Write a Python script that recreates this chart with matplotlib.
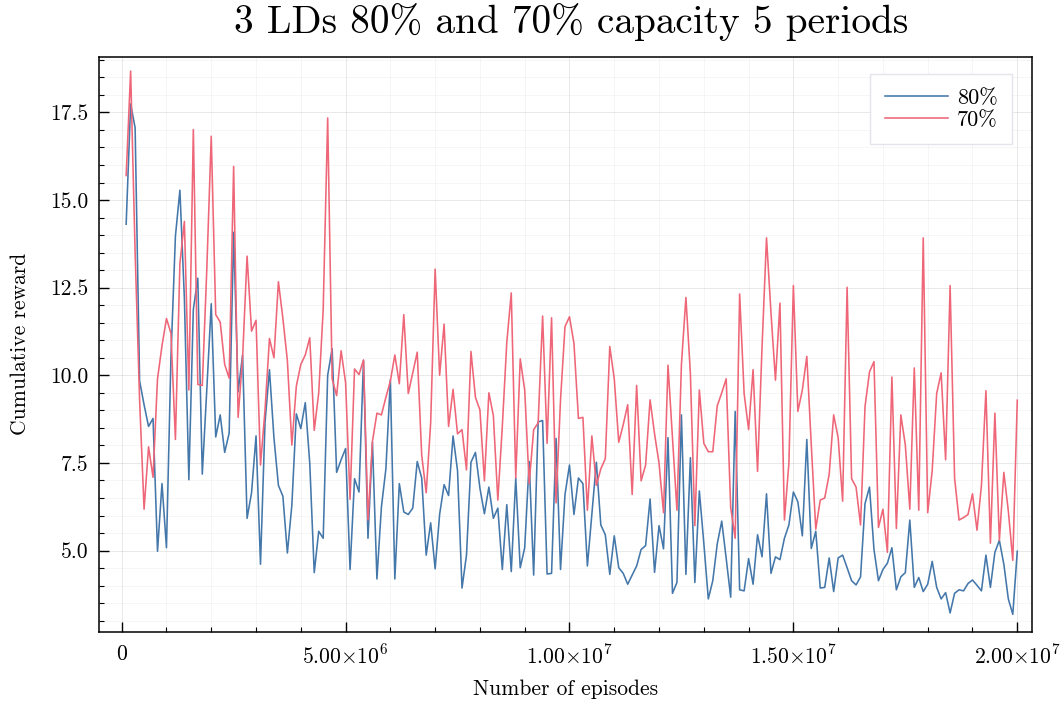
import numpy as np
import matplotlib
matplotlib.use("Agg")
import matplotlib.pyplot as plt
from matplotlib.ticker import FixedLocator, MultipleLocator

plt.rcParams['font.family'] = ['cmr10', 'DejaVu Sans']
plt.rcParams['mathtext.fontset'] = 'cm'
plt.rcParams['axes.unicode_minus'] = False
plt.rcParams['axes.formatter.use_mathtext'] = True

episodes = np.arange(1, 201) * 1e5

reward_80 = [
    14.31, 17.74, 17.06, 9.84, 9.16, 8.54, 8.77, 4.98, 6.91, 5.08,
    10.5, 13.97, 15.28, 12.2, 7.02, 11.88, 12.77, 7.18, 9.58, 12.04,
    8.24, 8.87, 7.80, 8.35, 14.08, 9.53, 10.58, 5.92, 6.65, 8.27,
    4.61, 8.64, 10.16, 8.22, 6.86, 6.55, 4.93, 6.29, 8.90, 8.48,
    9.22, 7.49, 4.37, 5.55, 5.35, 10.0, 10.76, 7.23, 7.59, 7.91,
    4.46, 7.05, 6.67, 10.42, 5.35, 8.09, 4.19, 6.24, 7.33, 9.87,
    4.19, 6.91, 6.10, 6.03, 6.21, 7.54, 7.07, 4.87, 5.79, 4.48,
    6.03, 6.88, 6.57, 8.27, 7.28, 3.93, 4.87, 7.52, 7.80, 6.78,
    6.05, 6.81, 5.92, 6.21, 4.46, 6.31, 4.40, 7.07, 4.51, 5.08,
    7.54, 4.30, 8.67, 8.71, 4.33, 4.35, 8.20, 4.46, 6.60, 7.44,
    6.03, 7.07, 6.91, 4.56, 6.03, 7.52, 5.73, 5.45, 4.32, 5.42,
    4.51, 4.35, 4.04, 4.30, 4.56, 5.03, 5.14, 6.47, 4.38, 5.71,
    5.05, 8.22, 3.78, 4.09, 8.87, 4.32, 7.65, 4.09, 6.70, 5.21,
    3.62, 4.14, 5.19, 5.84, 4.77, 3.67, 8.97, 3.88, 3.85, 4.77,
    4.04, 5.45, 4.82, 6.62, 4.35, 4.82, 4.74, 5.35, 5.73, 6.67,
    6.39, 5.42, 8.17, 5.06, 5.55, 3.93, 3.95, 4.79, 3.83, 4.79,
    4.87, 4.51, 4.14, 4.02, 4.25, 6.34, 6.81, 5.03, 4.14, 4.46,
    4.64, 5.08, 3.88, 4.25, 4.37, 5.87, 3.95, 4.23, 3.83, 4.04,
    4.69, 3.95, 3.62, 3.80, 3.22, 3.78, 3.88, 3.85, 4.06, 4.16,
    4.01, 3.85, 4.87, 3.95, 4.95, 5.29, 4.61, 3.62, 3.18, 4.98,
]

reward_70 = [
    15.70, 18.68, 13.5, 9.3, 6.18, 7.96, 7.09, 9.90, 10.84, 11.62,
    11.20, 8.17, 13.19, 14.39, 9.58, 17.01, 9.74, 9.71, 13.0, 16.82,
    11.73, 11.52, 10.31, 9.92, 15.96, 8.80, 10.5, 13.40, 11.26, 11.57,
    7.44, 9.0, 11.05, 10.50, 12.67, 11.62, 10.42, 8.01, 9.69, 10.31,
    10.58, 11.07, 8.43, 9.50, 11.88, 17.34, 9.90, 9.42, 10.70, 9.79,
    6.46, 10.18, 10.02, 10.44, 5.87, 8.12, 8.92, 8.87, 9.37, 9.84,
    10.58, 9.76, 11.73, 9.48, 10.07, 10.66, 7.72, 6.65, 8.64, 13.03,
    10.00, 11.46, 8.54, 9.60, 8.33, 8.45, 7.30, 10.68, 9.37, 9.01,
    6.99, 9.50, 8.85, 6.44, 8.54, 10.94, 12.35, 7.07, 10.47, 9.58,
    6.91, 8.45, 8.64, 11.69, 8.06, 11.64, 6.36, 9.3, 11.39, 11.67,
    10.91, 8.77, 8.80, 6.15, 8.27, 6.86, 7.33, 7.62, 10.82, 9.90,
    8.09, 8.59, 9.16, 6.60, 9.71, 6.99, 7.44, 9.30, 8.33, 7.49,
    6.08, 10.29, 8.22, 6.15, 10.31, 12.22, 10.05, 5.71, 9.58, 8.06,
    7.82, 7.82, 9.13, 9.50, 9.90, 6.23, 5.35, 12.32, 9.48, 8.45,
    10.16, 7.26, 10.8, 13.92, 11.78, 9.86, 12.06, 5.87, 7.49, 12.56,
    8.97, 9.58, 10.54, 8.01, 5.61, 6.44, 6.50, 7.18, 8.87, 8.22,
    6.41, 12.51, 7.05, 6.81, 5.73, 9.11, 10.10, 10.39, 5.66, 6.18,
    4.95, 9.95, 5.63, 8.87, 8.01, 6.18, 10.21, 6.15, 13.92, 6.08,
    7.28, 9.48, 10.07, 7.59, 12.56, 7.07, 5.87, 5.94, 6.03, 6.62,
    5.58, 6.86, 9.56, 5.21, 8.92, 5.29, 7.23, 6.13, 4.72, 9.29,
]

series_labels = ["80%", "70%"]
x_ticks = [0, 5e6, 1e7, 1.5e7, 2e7]
x_tick_labels = ["0", r"$5.00{\times}10^{6}$", r"$1.00{\times}10^{7}$",
                 r"$1.50{\times}10^{7}$", r"$2.00{\times}10^{7}$"]
y_ticks = [5.0, 7.5, 10.0, 12.5, 15.0, 17.5]

fig = plt.figure(figsize=(10.62, 7.04), dpi=100)
ax = fig.add_axes([0.0935, 0.1027, 0.8783, 0.8163])

ax.plot(episodes, reward_80, color="#4477AA", lw=1.15, label=series_labels[0])
ax.plot(episodes, reward_70, color="#EE6677", lw=1.15, label=series_labels[1])

ax.set_xlim(-0.5e6, 20.33e6)
ax.set_ylim(2.685, 19.08)

ax.xaxis.set_major_locator(FixedLocator(x_ticks))
ax.set_xticklabels(x_tick_labels)
ax.xaxis.set_minor_locator(MultipleLocator(1e6))
ax.yaxis.set_major_locator(FixedLocator(y_ticks))
ax.set_yticklabels([f"{v:.1f}" for v in y_ticks])
ax.yaxis.set_minor_locator(MultipleLocator(0.5))

ax.tick_params(axis='both', which='major', direction='in', length=7, width=1.0,
               labelsize=15.5, top=False, right=False)
ax.tick_params(axis='y', which='major', pad=8)
ax.tick_params(axis='x', which='major', pad=9)
ax.tick_params(axis='both', which='minor', direction='in', length=3.5, width=0.8,
               top=False, right=False)

ax.grid(True, which='major', color='black', alpha=0.1, lw=0.6)
ax.grid(True, which='minor', color='black', alpha=0.05, lw=0.5)
ax.set_axisbelow(True)
for s in ax.spines.values():
    s.set_linewidth(1.1)

ax.set_title("3 LDs 80% and 70% capacity 5 periods", fontsize=28.3, pad=17,
             x=0.506)
ax.set_xlabel("Number of episodes", fontsize=15.5, labelpad=8)
ax.set_ylabel("Cumulative reward", fontsize=15.5, labelpad=14)

leg = ax.legend(loc='upper right', fontsize=16, frameon=True, fancybox=False,
                edgecolor='#e4e4ec', framealpha=1.0, handlelength=2.85,
                handletextpad=0.4, borderpad=0.65, labelspacing=0.1,
                borderaxespad=0.0, bbox_to_anchor=(0.9786, 0.9704))
leg.get_frame().set_linewidth(1.0)

fig.savefig("out.png", dpi=100)
